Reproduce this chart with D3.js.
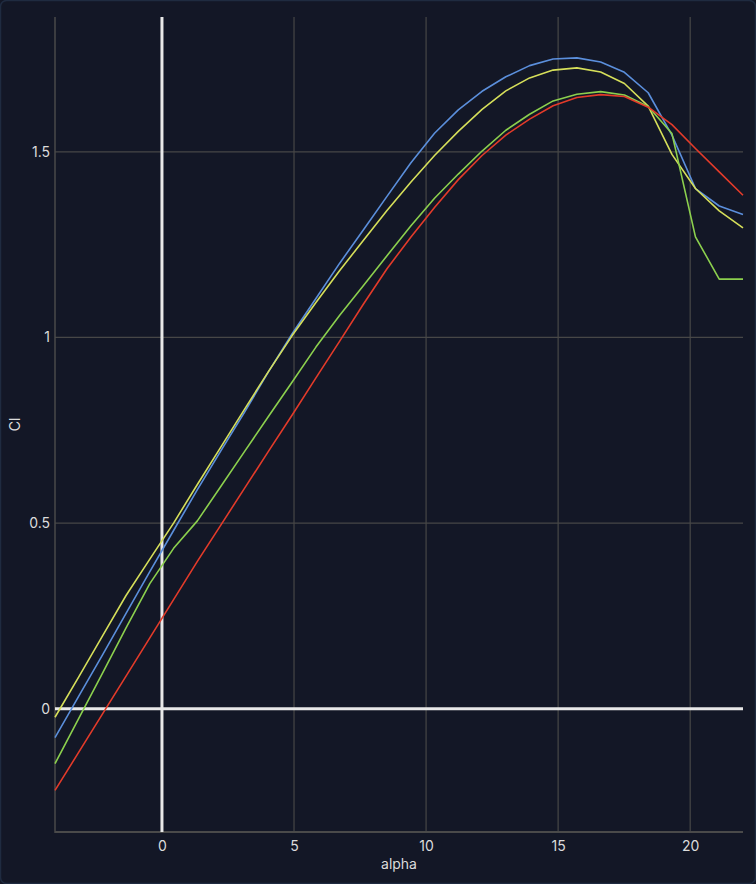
<!DOCTYPE html>
<html><head><meta charset="utf-8">
<script src="https://cdn.jsdelivr.net/npm/d3@7"></script>
<style>html,body{margin:0;padding:0;background:#131726;}svg{display:block;}</style>
</head><body><svg id="c" width="756" height="884"></svg>
<script>
const alpha = [-4.05,-3.15,-2.25,-1.36,-0.46,0.44,1.34,2.24,3.13,4.03,4.93,5.83,6.73,7.63,8.52,9.42,10.32,11.22,12.12,13.02,13.92,14.81,15.71,16.61,17.51,18.41,19.31,20.20,21.10,22.00];
const clBlue = [-0.078,0.034,0.145,0.257,0.369,0.480,0.590,0.696,0.799,0.907,1.010,1.105,1.200,1.290,1.380,1.470,1.550,1.613,1.663,1.702,1.732,1.750,1.753,1.742,1.714,1.659,1.545,1.401,1.354,1.331];
const clYellow = [-0.023,0.086,0.196,0.305,0.403,0.500,0.604,0.706,0.807,0.908,1.005,1.094,1.180,1.262,1.342,1.418,1.490,1.555,1.614,1.664,1.699,1.720,1.726,1.715,1.684,1.623,1.493,1.401,1.341,1.295];
const clGreen = [-0.148,-0.026,0.096,0.218,0.337,0.432,0.506,0.600,0.693,0.787,0.880,0.974,1.060,1.140,1.220,1.300,1.375,1.440,1.502,1.558,1.601,1.637,1.655,1.662,1.653,1.622,1.549,1.271,1.157,1.157];
const clRed = [-0.220,-0.117,-0.014,0.088,0.191,0.294,0.397,0.496,0.594,0.693,0.791,0.891,0.990,1.090,1.185,1.270,1.350,1.425,1.490,1.545,1.588,1.624,1.646,1.654,1.649,1.620,1.573,1.509,1.446,1.383];
const seriesNames = ["blue","yellow","green","red"];
const seriesColors = ["#5b8fdc","#d6df5a","#8cd04e","#e33b2a"];
const xTicks = [0,5,10,15,20];
const yTicks = [0,0.5,1,1.5];
const yTickLabels = ["0","0.5","1","1.5"];

const svg = d3.select("#c");
const W = 756, H = 884;
const m = {l:55, r:13, t:17, b:52};
const FONT = "Inter, 'Open Sans', sans-serif";
svg.append("rect").attr("x",0.5).attr("y",0.5).attr("width",W-1).attr("height",H-1)
  .attr("rx",6).attr("fill","#131726").attr("stroke","#1f2b40").attr("stroke-width",1.5);

const x = d3.scaleLinear().domain([-4.05,22]).range([m.l, W-m.r]);
const y = d3.scaleLinear().domain([-0.332,1.863]).range([H-m.b, m.t]);

const g = svg.append("g");
g.selectAll(".gx").data(xTicks.filter(d=>d!==0)).join("line")
  .attr("x1",d=>x(d)).attr("x2",d=>x(d)).attr("y1",m.t).attr("y2",H-m.b)
  .attr("stroke","#474747").attr("stroke-width",1.2);
g.selectAll(".gy").data(yTicks.filter(d=>d!==0)).join("line")
  .attr("x1",m.l).attr("x2",W-m.r).attr("y1",d=>y(d)).attr("y2",d=>y(d))
  .attr("stroke","#474747").attr("stroke-width",1.2);
g.append("line").attr("x1",m.l).attr("x2",m.l).attr("y1",m.t).attr("y2",H-m.b+1)
  .attr("stroke","#4a4a4a").attr("stroke-width",1.5);
g.append("line").attr("x1",m.l).attr("x2",W-m.r).attr("y1",H-m.b).attr("y2",H-m.b)
  .attr("stroke","#4a4a4a").attr("stroke-width",2);
g.append("line").attr("x1",x(0)).attr("x2",x(0)).attr("y1",m.t).attr("y2",H-m.b)
  .attr("stroke","#e8e8e8").attr("stroke-width",3);
g.append("line").attr("x1",m.l).attr("x2",W-m.r).attr("y1",y(0)).attr("y2",y(0))
  .attr("stroke","#e8e8e8").attr("stroke-width",3);

const xAxis = d3.axisBottom(x).tickValues(xTicks).tickSize(0).tickPadding(9).tickFormat(d3.format("d"));
const xa = svg.append("g").attr("transform",`translate(0,${H-m.b})`).call(xAxis);
const yAxis = d3.axisLeft(y).tickValues(yTicks).tickSize(0).tickPadding(5).tickFormat((d,i)=>yTickLabels[i]);
const ya = svg.append("g").attr("transform",`translate(${m.l},0)`).call(yAxis);
[xa,ya].forEach(a=>{
  a.select(".domain").remove();
  a.selectAll("text").attr("fill","#dcdcdc").style("font-family",FONT).style("font-size","14px");
});

const data = [clBlue, clYellow, clGreen, clRed];
const line = d3.line().x((d,i)=>x(alpha[i])).y(d=>y(d));
svg.append("g").selectAll("path").data(data).join("path")
  .attr("d",line).attr("fill","none")
  .attr("stroke",(d,i)=>seriesColors[i]).attr("stroke-width",1.6)
  .attr("stroke-linejoin","round");

svg.append("text").attr("x",(m.l+W-m.r)/2).attr("y",869).attr("text-anchor","middle")
  .attr("fill","#dcdcdc").style("font-family",FONT).style("font-size","14px").text("alpha");
svg.append("text").attr("transform",`translate(20,${(m.t+H-m.b)/2}) rotate(-90)`).attr("text-anchor","middle")
  .attr("fill","#dcdcdc").style("font-family",FONT).style("font-size","14px").text("Cl");
</script></body></html>
